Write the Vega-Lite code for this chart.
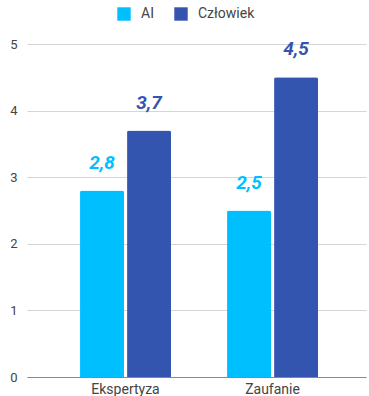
{
  "$schema": "https://vega.github.io/schema/vega-lite/v6.json",
  "width": 339,
  "height": 333,
  "autosize": {"type": "none"},
  "padding": {"left": 27, "top": 44, "right": 3, "bottom": 19},
  "background": "white",
  "config": {
    "font": "Roboto",
    "view": {"stroke": null},
    "locale": {"number": {"decimal": ",", "thousands": " ", "grouping": [3], "currency": ["", " zł"]}}
  },
  "data": {
    "values": [
      {"kategoria": "Ekspertyza", "grupa": "AI", "wartosc": 2.8},
      {"kategoria": "Ekspertyza", "grupa": "Człowiek", "wartosc": 3.7},
      {"kategoria": "Zaufanie", "grupa": "AI", "wartosc": 2.5},
      {"kategoria": "Zaufanie", "grupa": "Człowiek", "wartosc": 4.5}
    ]
  },
  "encoding": {
    "x": {
      "field": "kategoria", "type": "nominal", "title": null,
      "scale": {"paddingInner": 0.381, "paddingOuter": 0.3435, "align": 0.525},
      "axis": {"labelAngle": 0, "labelFontSize": 14, "labelColor": "#444", "ticks": false, "domainColor": "#888", "labelPadding": 5, "grid": false}
    },
    "xOffset": {"field": "grupa", "type": "nominal", "scale": {"paddingInner": 0.065, "paddingOuter": 0}},
    "y": {
      "field": "wartosc", "type": "quantitative", "title": null,
      "scale": {"domain": [0, 5], "nice": false},
      "axis": {"values": [0, 1, 2, 3, 4, 5], "labelOverlap": false, "labelFlush": false, "labelFontSize": 13, "labelColor": "#444", "ticks": false, "domain": false, "gridColor": "#d6d6d6", "labelPadding": 10}
    },
    "color": {
      "field": "grupa", "type": "nominal",
      "scale": {"domain": ["AI", "Człowiek"], "range": ["#00BFFF", "#3355B0"]},
      "legend": {
        "title": null, "orient": "none", "direction": "horizontal",
        "legendX": 90, "legendY": -37,
        "symbolType": "square", "symbolSize": 180, "symbolStrokeWidth": 0,
        "labelFontSize": 14, "labelColor": "#444", "columnPadding": 20, "labelOffset": 10
      }
    }
  },
  "layer": [
    {"mark": {"type": "bar", "cornerRadiusTopLeft": 2, "cornerRadiusTopRight": 2}},
    {
      "mark": {"type": "text", "baseline": "alphabetic", "dy": -22, "fontSize": 19, "fontWeight": "bold", "fontStyle": "italic"},
      "encoding": {"text": {"field": "wartosc", "type": "quantitative", "format": ".1f"}}
    }
  ]
}
